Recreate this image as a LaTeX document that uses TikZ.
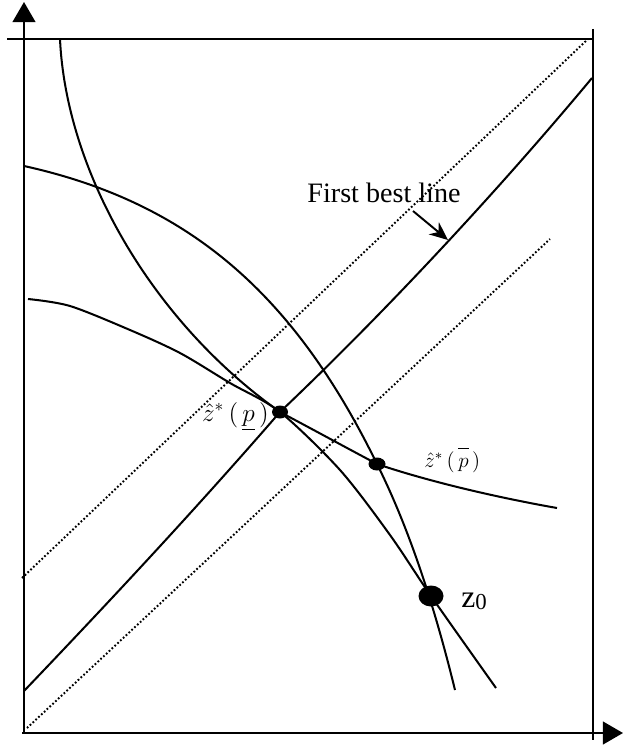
\documentclass[tikz,border=0pt]{standalone}
\usepackage{amsmath}
\usepackage{fontspec}
\setmainfont{Liberation Serif}
\usetikzlibrary{arrows.meta,positioning,shapes.geometric}
\tikzset{
  axisLine/.style={line width=1.2pt, -{Triangle[length=11.5pt, width=13pt]}},
  frameLine/.style={line width=1.1pt},
  curveLine/.style={line width=1.15pt},
  guideLine/.style={line width=1.1pt, dash pattern=on 1pt off 1.2pt},
  eqDot/.style={ellipse, fill=black, inner sep=0pt},
  noteArrow/.style={-{Stealth[length=10.5pt, width=9pt]}, line width=1.1pt},
  noteLabel/.style={inner sep=0pt, font=\fontsize{16}{19}\selectfont}
}

\begin{document}
\begin{tikzpicture}[x=0.02cm, y=-0.02cm]
  \useasboundingbox (0,0) rectangle (629,750);
  \coordinate (origin) at (24,733);
  \coordinate (xStart) at (22,733);
  \coordinate (xEnd) at (623,733);
  \coordinate (yEnd) at (24,2);
  \coordinate (zp) at (280,412);
  \coordinate (zpbar) at (377,464);
  \coordinate (z0) at (431,596);
  % axes and box
  \draw[axisLine] (xStart) -- (xEnd);
  \draw[axisLine] (origin) -- (yEnd);
  \draw[frameLine] (7,39) -- (592,39);
  \draw[frameLine] (593,29) -- (593,740);
  % dotted lines
  \draw[guideLine] (22,578) -- (588,39);
  \draw[guideLine] (27,728) -- (550,239);
  % curves
  \draw[curveLine] (24,166) .. controls (187,202) and (293,292) .. (zpbar)
    .. controls (406,522) and (432,596) .. (455,690);
  \draw[curveLine] (60,39) .. controls (66,170) and (150,320) .. (zp)
    .. controls (312,429) and (345,447) .. (zpbar)
    .. controls (430,482) and (500,498) .. (557,508);
  \draw[curveLine] plot[smooth] coordinates {(28,299) (70,306) (130,330) (180,353) (230,383) (zp) (340,470) (390,535) (z0) (496,688)};
  \draw[curveLine] (24,691) .. controls (109,602) and (195,510) .. (zp)
    .. controls (380,317) and (492,198) .. (592,78);
  % points
  \node[eqDot, minimum width=0.32cm, minimum height=0.26cm] (zpDot) at (zp) {};
  \node[eqDot, minimum width=0.34cm, minimum height=0.26cm] (zpbarDot) at (zpbar) {};
  \node[eqDot, minimum width=0.5cm, minimum height=0.42cm] (z0Dot) at (z0) {};
  % labels
  \node[inner sep=0pt, anchor=base east, font=\fontsize{14.5}{17}\selectfont] (zpLab) at (269,421) {$\hat{z}^{*}\,(\,\underline{p}\,)$};
  \node[inner sep=0pt, anchor=base west, font=\fontsize{11.5}{13}\selectfont] (zpbarLab) at (424,467) {$\hat{z}^{*}\,(\,\overline{\vphantom{(}p}\,)$};
  \node[inner sep=0pt, anchor=base west] (z0Lab) at (461,607) {\fontsize{18}{21}\selectfont z\raisebox{-1.7pt}{\fontsize{13}{15}\selectfont 0}};
  \node[noteLabel, anchor=base] (fbLab) at (384,202) {First best line};
  \coordinate (fbTail) at (413,211);
  \coordinate (fbTip) at (448,240);
  \draw[noteArrow] (fbTail) -- (fbTip);
\end{tikzpicture}
\end{document}
